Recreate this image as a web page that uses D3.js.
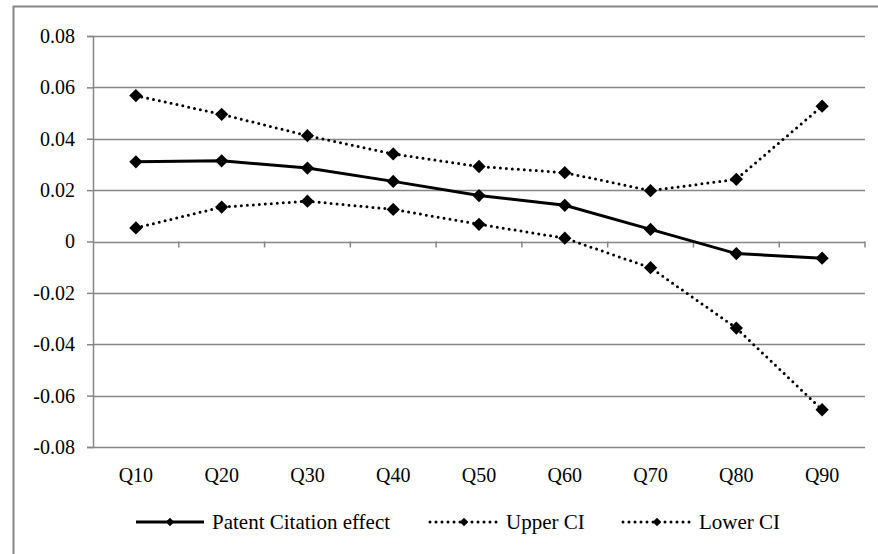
<!DOCTYPE html>
<html>
<head>
<meta charset="utf-8">
<script src="https://cdn.jsdelivr.net/npm/d3@7"></script>
<style>
  body { margin: 0; background: #fff; }
  svg { display: block; }
</style>
</head>
<body>
<svg id="chart" width="878" height="554"></svg>
<script>
var categories = ["Q10", "Q20", "Q30", "Q40", "Q50", "Q60", "Q70", "Q80", "Q90"];
var effect = [0.0310, 0.0314, 0.0286, 0.0234, 0.0179, 0.0141, 0.0047, -0.0047, -0.0065];
var upperCI = [0.0568, 0.0495, 0.0412, 0.0341, 0.0292, 0.0268, 0.0198, 0.0242, 0.0527];
var lowerCI = [0.0053, 0.0134, 0.0157, 0.0125, 0.0067, 0.0013, -0.0102, -0.0337, -0.0655];
var yTicks = [-0.08, -0.06, -0.04, -0.02, 0, 0.02, 0.04, 0.06, 0.08];

var svg = d3.select("#chart");
var grey = "#868686";
var fontSize = "20px";
var serif = "'Liberation Serif', 'Times New Roman', 'DejaVu Serif', serif";

// outer frame (only top and left edges show in the picture)
svg.append("path")
  .attr("d", "M13.5,554V6.5H878")
  .attr("fill", "none")
  .attr("stroke", grey)
  .attr("stroke-width", 2);

var plotLeft = 93, plotRight = 865, plotTop = 36, plotBottom = 447;

var x = d3.scaleBand().domain(categories).range([plotLeft, plotRight]);
var y = d3.scaleLinear().domain([-0.08, 0.08]).range([plotBottom, plotTop]);

// gridlines
svg.append("g")
  .selectAll("line")
  .data(yTicks)
  .enter().append("line")
  .attr("x1", plotLeft).attr("x2", plotRight)
  .attr("y1", function(d) { return Math.round(y(d)) + 0.5; })
  .attr("y2", function(d) { return Math.round(y(d)) + 0.5; })
  .attr("stroke", grey)
  .attr("stroke-width", 1.5);

// y axis
var yAxis = d3.axisLeft(y)
  .tickValues(yTicks)
  .tickSize(6)
  .tickPadding(12)
  .tickFormat(function(d) { return d === 0 ? "0" : d.toFixed(2); });

var gy = svg.append("g")
  .attr("transform", "translate(" + plotLeft + ",0)")
  .call(yAxis)
  .attr("font-family", serif)
  .attr("font-size", fontSize);
gy.select(".domain").attr("stroke", grey).attr("stroke-width", 1.5);
gy.selectAll(".tick line").attr("stroke", grey).attr("stroke-width", 1.5);
gy.selectAll("text").attr("fill", "#000");

// category axis along zero
var boundaries = categories.map(function(c) { return x(c) + x.bandwidth(); });
svg.append("g")
  .selectAll("line")
  .data(boundaries)
  .enter().append("line")
  .attr("x1", function(d) { return d; })
  .attr("x2", function(d) { return d; })
  .attr("y1", y(0)).attr("y2", y(0) + 6)
  .attr("stroke", grey)
  .attr("stroke-width", 1.5);

svg.append("g")
  .attr("font-family", serif)
  .attr("font-size", fontSize)
  .selectAll("text")
  .data(categories)
  .enter().append("text")
  .attr("x", function(d) { return x(d) + x.bandwidth() / 2; })
  .attr("y", 482)
  .attr("text-anchor", "middle")
  .text(function(d) { return d; });

// series
var series = [
  { name: "Patent Citation effect", values: effect, dash: null, width: 3 },
  { name: "Upper CI", values: upperCI, dash: "0,6", width: 3 },
  { name: "Lower CI", values: lowerCI, dash: "0,6", width: 3 }
];

var line = d3.line()
  .x(function(d, i) { return x(categories[i]) + x.bandwidth() / 2; })
  .y(function(d) { return y(d); });

series.forEach(function(s) {
  svg.append("path")
    .datum(s.values)
    .attr("d", line)
    .attr("fill", "none")
    .attr("stroke", "#000")
    .attr("stroke-width", s.width)
    .attr("stroke-linecap", s.dash ? "round" : "butt")
    .attr("stroke-dasharray", s.dash);

  svg.append("g")
    .selectAll("path")
    .data(s.values)
    .enter().append("path")
    .attr("transform", function(d, i) {
      return "translate(" + (x(categories[i]) + x.bandwidth() / 2) + "," + y(d) + ") rotate(45)";
    })
    .attr("d", d3.symbol().type(d3.symbolSquare).size(88))
    .attr("fill", "#000");
});

// legend
var legendX = [136, 430, 623];
var legend = svg.append("g")
  .attr("font-family", serif)
  .attr("font-size", "21px");
series.forEach(function(s, i) {
  var g = legend.append("g").attr("transform", "translate(" + legendX[i] + ",522)");
  g.append("line")
    .attr("x1", 0).attr("x2", 68)
    .attr("y1", 0).attr("y2", 0)
    .attr("stroke", "#000")
    .attr("stroke-width", s.width)
    .attr("stroke-linecap", s.dash ? "round" : "butt")
    .attr("stroke-dasharray", s.dash);
  g.append("path")
    .attr("transform", "translate(34,0) rotate(45)")
    .attr("d", d3.symbol().type(d3.symbolSquare).size(36))
    .attr("fill", "#000");
  g.append("text")
    .attr("x", 76)
    .attr("y", 7)
    .text(s.name);
});
</script>
</body>
</html>
